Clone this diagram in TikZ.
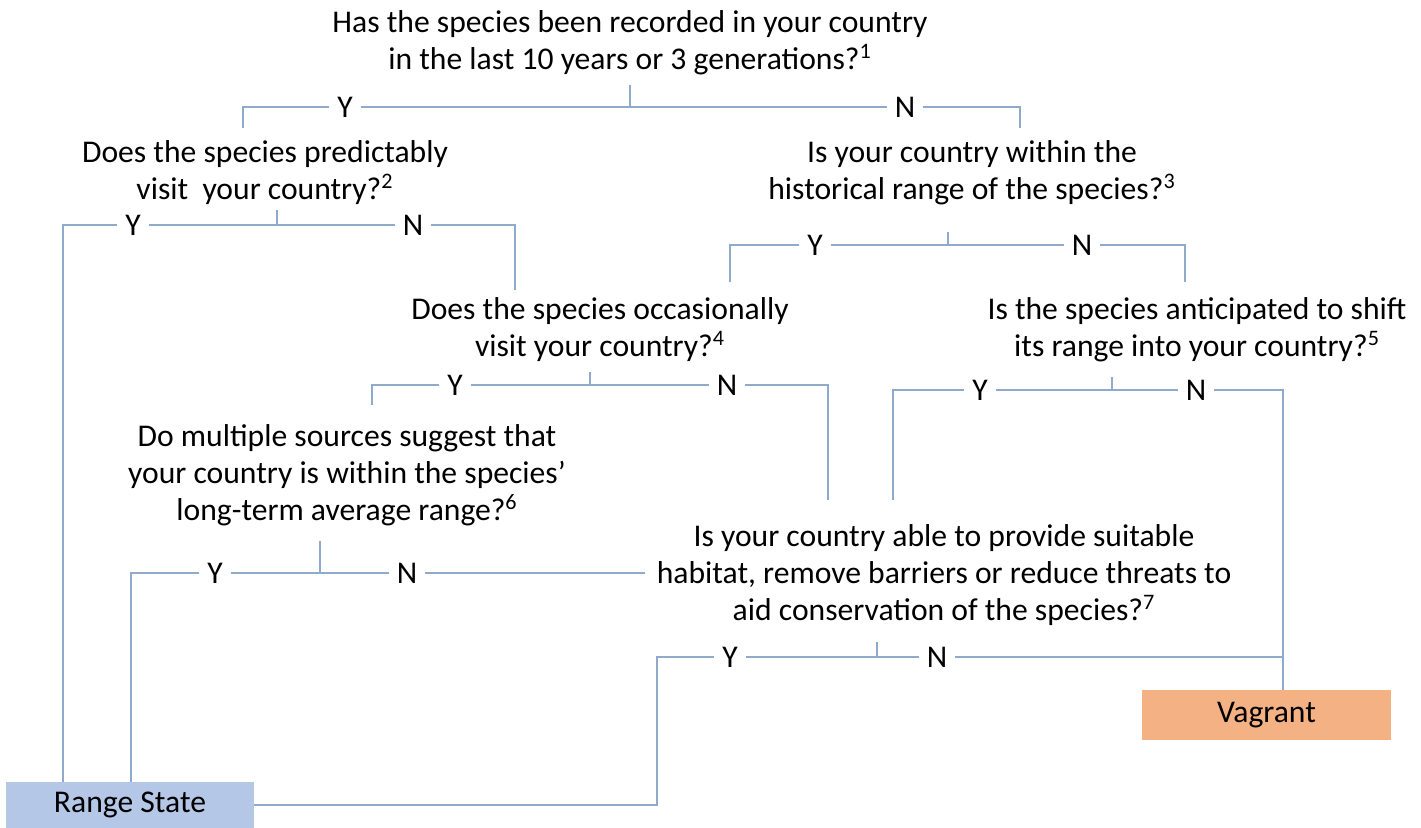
\documentclass[tikz,border=0pt]{standalone}
\usepackage{fontspec}
\setmainfont{Carlito}
\begin{document}
\begin{tikzpicture}[x=0.02cm,y=-0.02cm,
  q/.style={align=center,font=\fontsize{18}{21}\selectfont,inner sep=0pt},
  lbl/.style={font=\fontsize{18}{21}\selectfont,inner sep=0pt,outer sep=4.5pt},
  wire/.style={draw=linec,line width=0.8pt},
  rsbox/.style={fill=rsfill,minimum width=4.96cm,minimum height=0.92cm,inner sep=0pt,font=\fontsize{18}{21}\selectfont},
  vgbox/.style={fill=vgfill,minimum width=4.98cm,minimum height=1cm,inner sep=0pt,font=\fontsize{18}{21}\selectfont}]
\definecolor{linec}{RGB}{143,170,205}
\definecolor{rsfill}{RGB}{180,199,231}
\definecolor{vgfill}{RGB}{244,177,131}
\useasboundingbox (0,0) rectangle (1421,828);
\fill[white] (0,0) rectangle (1421,828);

% questions
\node[q] (q1) at (630,43) {Has the species been recorded in your country\\in the last 10 years or 3 generations?\textsuperscript{1}};
\node[q] (q2) at (265,173) {Does the species predictably\\visit\ \ your country?\textsuperscript{2}};
\node[q] (q3) at (972,173) {Is your country within the\\historical range of the species?\textsuperscript{3}};
\node[q] (q4) at (600,330) {Does the species occasionally\\visit your country?\textsuperscript{4}};
\node[q] (q5) at (1197,330) {Is the species anticipated to shift\\its range into your country?\textsuperscript{5}};
\node[q] (q6) at (347,475) {Do multiple sources suggest that\\your country is within the species’\\long-term average range?\textsuperscript{6}};
\node[q] (q7) at (944,575) {Is your country able to provide suitable\\habitat, remove barriers or reduce threats to\\aid conservation of the species?\textsuperscript{7}};

% outcomes
\node[rsbox] (rs) at (130,805) {Range State};
\node[vgbox] (vg) at (1266.5,715) {Vagrant};

% labels
\node[lbl] (y1) at (345,107) {Y};
\node[lbl] (n1) at (905,107) {N};
\node[lbl] (y2) at (133,225) {Y};
\node[lbl] (n2) at (413,225) {N};
\node[lbl] (y3) at (815,245) {Y};
\node[lbl] (n3) at (1082,245) {N};
\node[lbl] (y4) at (455,385) {Y};
\node[lbl] (n4) at (727,385) {N};
\node[lbl] (y5) at (980,390) {Y};
\node[lbl] (n5) at (1196,390) {N};
\node[lbl] (y6) at (215,573) {Y};
\node[lbl] (n6) at (407,573) {N};
\node[lbl] (y7) at (730,657) {Y};
\node[lbl] (n7) at (937,657) {N};

% coordinates
\coordinate (t1) at (630,85);   \coordinate (j1) at (630,107);
\coordinate (l1) at (243,107);  \coordinate (l1b) at (243,128);
\coordinate (r1) at (1020,107); \coordinate (r1b) at (1020,128);
\coordinate (t2) at (277,210);  \coordinate (j2) at (277,225);
\coordinate (l2) at (63,225);
\coordinate (r2) at (515,225);  \coordinate (r2b) at (515,290);
\coordinate (t3) at (948,232);  \coordinate (j3) at (948,245);
\coordinate (l3) at (730,245);  \coordinate (l3b) at (730,282);
\coordinate (r3) at (1185,245); \coordinate (r3b) at (1185,282);
\coordinate (t4) at (590,372);  \coordinate (j4) at (590,385);
\coordinate (l4) at (372,385);  \coordinate (l4b) at (372,405);
\coordinate (r4) at (828,385);  \coordinate (r4b) at (828,500);
\coordinate (t5) at (1112,377); \coordinate (j5) at (1112,390);
\coordinate (l5) at (893,390);  \coordinate (l5b) at (893,500);
\coordinate (r5) at (1283,390);
\coordinate (t6) at (320,541);  \coordinate (j6) at (320,573);
\coordinate (l6) at (131,573);
\coordinate (e6) at (645,573);
\coordinate (t7) at (877,642);  \coordinate (j7) at (877,657);
\coordinate (l7) at (657,657);  \coordinate (l7b) at (657,805);
\coordinate (r7) at (1283,657);

% wires
\draw[wire] (t1) -- (j1);
\draw[wire] (y1.east) -- (n1.west);
\draw[wire] (y1.west) -- (l1) -- (l1b);
\draw[wire] (n1.east) -- (r1) -- (r1b);

\draw[wire] (t2) -- (j2);
\draw[wire] (y2.east) -- (n2.west);
\draw[wire] (y2.west) -- (l2) -- (l2 |- rs.north);
\draw[wire] (n2.east) -- (r2) -- (r2b);

\draw[wire] (t3) -- (j3);
\draw[wire] (y3.east) -- (n3.west);
\draw[wire] (y3.west) -- (l3) -- (l3b);
\draw[wire] (n3.east) -- (r3) -- (r3b);

\draw[wire] (t4) -- (j4);
\draw[wire] (y4.east) -- (n4.west);
\draw[wire] (y4.west) -- (l4) -- (l4b);
\draw[wire] (n4.east) -- (r4) -- (r4b);

\draw[wire] (t5) -- (j5);
\draw[wire] (y5.east) -- (n5.west);
\draw[wire] (y5.west) -- (l5) -- (l5b);
\draw[wire] (n5.east) -- (r5) -- (r5 |- vg.north);

\draw[wire] (t6) -- (j6);
\draw[wire] (y6.east) -- (n6.west);
\draw[wire] (y6.west) -- (l6) -- (l6 |- rs.north);
\draw[wire] (n6.east) -- (e6);

\draw[wire] (t7) -- (j7);
\draw[wire] (y7.east) -- (n7.west);
\draw[wire] (y7.west) -- (l7) -- (l7b) -- (rs.east |- l7b);
\draw[wire] (n7.east) -- (r7);
\end{tikzpicture}
\end{document}
